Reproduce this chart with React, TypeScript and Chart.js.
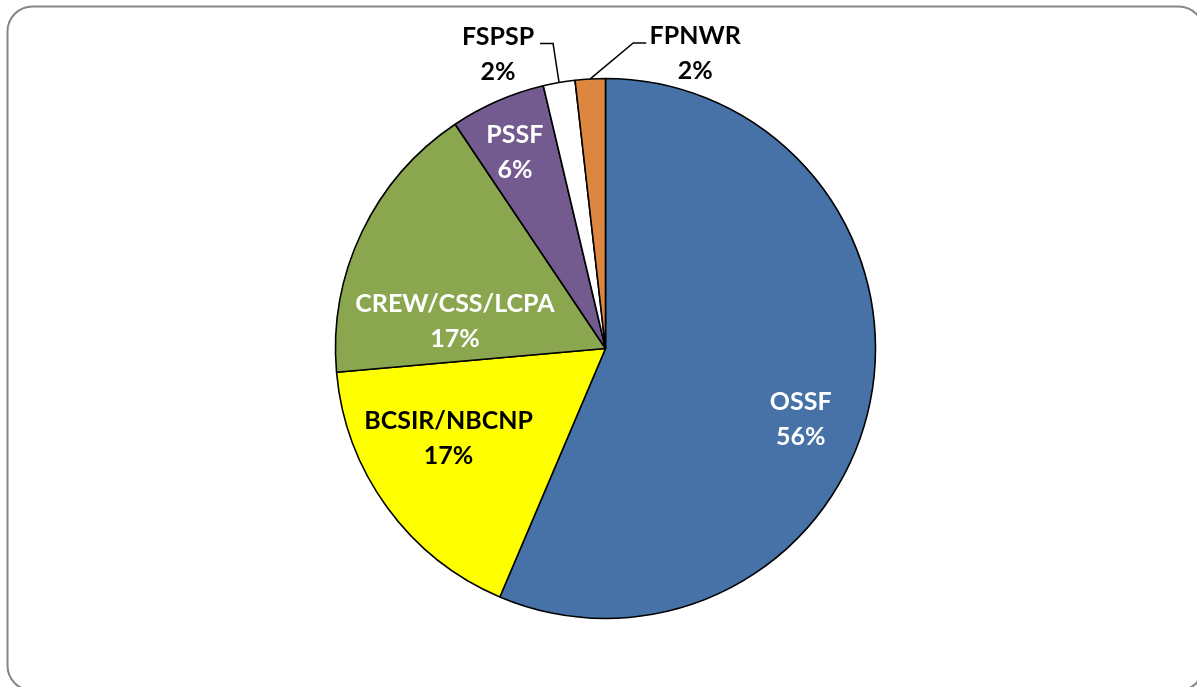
import React, { useEffect, useRef } from "react";
import { Chart, registerables } from "chart.js";

Chart.register(...registerables);

const categories = ["OSSF", "BCSIR/NBCNP", "CREW/CSS/LCPA", "PSSF", "FSPSP", "FPNWR"];
const shares = [56.4, 17.2, 17.0, 5.7, 1.9, 1.8];
const sliceColors = ["#4672A7", "#FFFF00", "#8AA64E", "#735A8F", "#FFFFFF", "#DD863F"];
const labelColors = ["#FFFFFF", "#000000", "#FFFFFF", "#FFFFFF", "#000000", "#000000"];
// label nudges (px) from an anchor at 70% of the radius on the slice mid angle
const innerNudgeX = [10, -4, 20, -15, 0, 0];
const innerNudgeY = [33, -21, 54, -23, 0, 0];
// outside labels: offset of label centre and of leader elbow from the slice edge point
const outsideLabel = [false, false, false, false, true, true];
const outLabelDX = [0, 0, 0, 0, -61, 105];
const outLabelDY = [0, 0, 0, 0, -28, -25];
const elbowDX = [0, 0, 0, 0, -6, 43];
const elbowDY = [0, 0, 0, 0, -39, -36];
const leaderTail = [0, 0, 0, 0, -13, 13];

const FONT = "bold 25px Lato, 'Open Sans', sans-serif";
const LINE_GAP = 35;

const framePlugin = {
  id: "frame",
  beforeDraw(chart: any) {
    const ctx = chart.ctx as CanvasRenderingContext2D;
    ctx.save();
    ctx.fillStyle = "#FFFFFF";
    ctx.fillRect(0, 0, chart.width, chart.height);
    ctx.beginPath();
    (ctx as any).roundRect(7.5, 6.5, 1196, 684, 25);
    ctx.lineWidth = 2;
    ctx.strokeStyle = "#868686";
    ctx.stroke();
    ctx.restore();
  },
};

const labelPlugin = {
  id: "sliceLabels",
  afterDatasetsDraw(chart: any) {
    const ctx = chart.ctx as CanvasRenderingContext2D;
    const meta = chart.getDatasetMeta(0);
    const total = shares.reduce((a, b) => a + b, 0);
    ctx.save();
    ctx.font = FONT;
    ctx.textAlign = "center";
    ctx.textBaseline = "middle";
    meta.data.forEach((arc: any, i: number) => {
      const p = arc.getProps(["x", "y", "startAngle", "endAngle", "outerRadius"], true);
      const mid = (p.startAngle + p.endAngle) / 2;
      const pct = Math.round((shares[i] / total) * 100) + "%";
      let cx: number;
      let cy: number;
      if (outsideLabel[i]) {
        const ex = p.x + Math.cos(mid) * p.outerRadius;
        const ey = p.y + Math.sin(mid) * p.outerRadius;
        const bx = ex + elbowDX[i];
        const by = ey + elbowDY[i];
        ctx.beginPath();
        ctx.moveTo(ex, ey);
        ctx.lineTo(bx, by);
        ctx.lineTo(bx + leaderTail[i], by);
        ctx.lineWidth = 1.5;
        ctx.strokeStyle = "#000000";
        ctx.stroke();
        cx = ex + outLabelDX[i];
        cy = ey + outLabelDY[i];
      } else {
        const r = p.outerRadius * 0.7;
        cx = p.x + Math.cos(mid) * r + innerNudgeX[i];
        cy = p.y + Math.sin(mid) * r + innerNudgeY[i];
      }
      ctx.fillStyle = labelColors[i];
      ctx.fillText(categories[i], cx, cy - LINE_GAP / 2);
      ctx.fillText(pct, cx, cy + LINE_GAP / 2);
    });
    ctx.restore();
  },
};

export default function App() {
  const ref = useRef<HTMLCanvasElement | null>(null);
  useEffect(() => {
    if (!ref.current) return;
    const chart = new Chart(ref.current, {
      type: "pie",
      data: {
        labels: categories,
        datasets: [
          {
            data: shares,
            backgroundColor: sliceColors,
            borderColor: "#000000",
            borderWidth: 1.6,
            radius: 270,
          } as any,
        ],
      },
      options: {
        responsive: false,
        animation: false,
        layout: { padding: { left: 14, right: 0, top: 10, bottom: 0 } },
        plugins: {
          legend: { display: false },
          tooltip: { enabled: false },
          title: { display: false },
        },
      },
      plugins: [framePlugin, labelPlugin],
    });
    return () => chart.destroy();
  }, []);
  return (
    <div style={{ position: "absolute", left: 0, top: 0, width: 1197, height: 687 }}>
      <canvas ref={ref} width={1197} height={687} style={{ display: "block" }} />
    </div>
  );
}
